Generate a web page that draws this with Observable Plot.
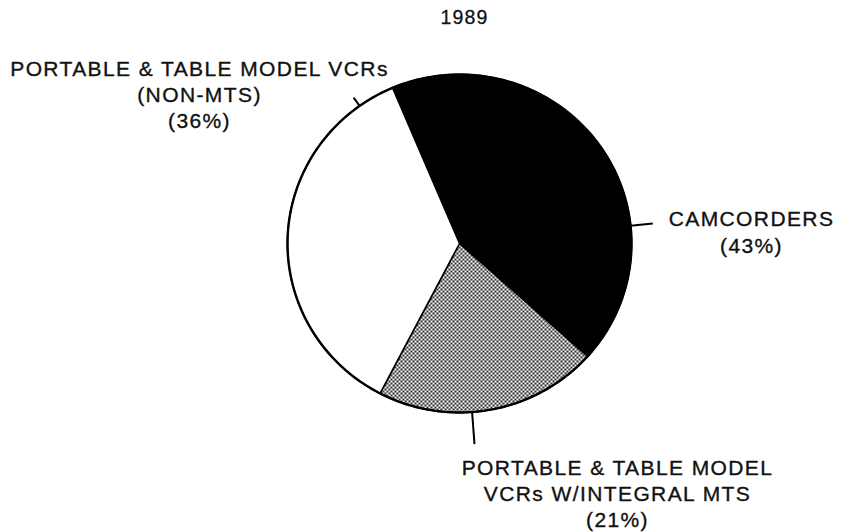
<!DOCTYPE html>
<html>
<head>
<meta charset="utf-8">
<script src="https://cdn.jsdelivr.net/npm/d3@7"></script>
<script src="https://cdn.jsdelivr.net/npm/@observablehq/plot@0.6"></script>
<style>
  html, body { margin: 0; padding: 0; background: #fff; }
  #chart { width: 843px; height: 532px; }
</style>
</head>
<body>
<div id="chart"></div>
<script>
// ---- data ----
const title = "1989";
const categories = ["CAMCORDERS", "PORTABLE & TABLE MODEL VCRs W/INTEGRAL MTS", "PORTABLE & TABLE MODEL VCRs (NON-MTS)"];
const shares = [43, 21, 36];
const labelNames = [["CAMCORDERS"], ["PORTABLE & TABLE MODEL", "VCRs W/INTEGRAL MTS"], ["PORTABLE & TABLE MODEL VCRs", "(NON-MTS)"]];
const fills = ["black", "url(#dots)", "white"];

// ---- layout ----
const W = 843, H = 532;
const cx = 459, cy = 243, rx = 172, ry = 169;
const startDeg = -22.9;
const fontFamily = "'Liberation Sans', Arial, Helvetica, sans-serif";
// label anchors (center x, first baseline y, line step)
const labelPos = [
  {x: 751, y: 225, step: 27},
  {x: 617, y: 474, step: 26},
  {x: 199, y: 75, step: 26}
];
// leader lines: angle (deg from north, clockwise), r0, r1 in multiples of radius
const leaders = [
  {a: 84, r0: 1.0, r1: 1.13},
  {a: 175.8, r0: 1.0, r1: 1.19},
  {a: -35.5, r0: 1.0, r1: 1.06}
];

const rad = d => d * Math.PI / 180;
const px = (a, k = 1) => cx + rx * k * Math.sin(rad(a));
const py = (a, k = 1) => cy - ry * k * Math.cos(rad(a));

// slices from data
const total = d3.sum(shares);
let acc = startDeg;
const slicePts = [];
shares.forEach((v, i) => {
  const a0 = acc, a1 = acc + v / total * 360;
  acc = a1;
  slicePts.push({slice: i, x: cx, y: cy, fill: fills[i]});
  const n = Math.max(2, Math.ceil(a1 - a0) * 2);
  for (let j = 0; j <= n; j++) {
    const a = a0 + (a1 - a0) * j / n;
    slicePts.push({slice: i, x: px(a), y: py(a), fill: fills[i]});
  }
  slicePts.push({slice: i, x: cx, y: cy, fill: fills[i]});
});
const outline = d3.range(0, 361, 1).map(a => ({x: px(a), y: py(a)}));

const leaderData = leaders.map(l => ({x1: px(l.a, l.r0), y1: py(l.a, l.r0), x2: px(l.a, l.r1), y2: py(l.a, l.r1)}));

const textData = [];
categories.forEach((c, i) => {
  const lines = [...labelNames[i], `(${shares[i]}%)`];
  lines.forEach((t, k) => textData.push({x: labelPos[i].x, y: labelPos[i].y + k * labelPos[i].step, text: t}));
});

const chart = Plot.plot({
  width: W, height: H,
  margin: 0,
  x: {domain: [0, W], range: [0, W], axis: null},
  y: {domain: [0, H], range: [0, H], axis: null},
  color: {type: "identity"},
  style: {fontFamily, background: "white"},
  marks: [
    Plot.line(slicePts, {x: "x", y: "y", z: "slice", fill: "fill", stroke: "black", strokeWidth: 1.6, strokeLinejoin: "round"}),
    Plot.line(outline, {x: "x", y: "y", stroke: "black", strokeWidth: 2.4}),
    Plot.link(leaderData, {x1: "x1", y1: "y1", x2: "x2", y2: "y2", stroke: "black", strokeWidth: 2}),
    Plot.text(textData, {x: "x", y: "y", text: "text", lineAnchor: "bottom", textAnchor: "middle", fontSize: 21, fill: "#111", stroke: "#111", strokeWidth: 0.35, className: "lbl"}),
    Plot.text([title], {x: [464], y: [23], text: d => d, lineAnchor: "bottom", textAnchor: "middle", fontSize: 19.5, fill: "#111", stroke: "#111", strokeWidth: 0.3, className: "ttl"})
  ]
});

// dot pattern for the shaded slice
const svg = d3.select(chart.tagName.toLowerCase() === "svg" ? chart : chart.querySelector("svg"));
const defs = svg.insert("defs", ":first-child");
const pat = defs.append("pattern").attr("id", "dots").attr("patternUnits", "userSpaceOnUse").attr("width", 4).attr("height", 4);
pat.append("rect").attr("width", 4).attr("height", 4).attr("fill", "white");
pat.append("circle").attr("cx", 1).attr("cy", 1).attr("r", 1.1).attr("fill", "#111");
pat.append("circle").attr("cx", 3).attr("cy", 3).attr("r", 1.1).attr("fill", "#111");
svg.selectAll(".lbl text").style("letter-spacing", "1.4px");
svg.selectAll(".ttl text").style("letter-spacing", "1.1px");

document.getElementById("chart").appendChild(chart);
</script>
</body>
</html>
